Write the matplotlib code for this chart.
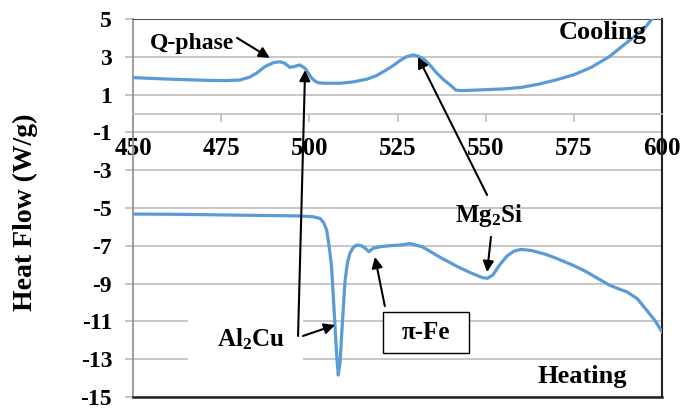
"""DSC heat flow curves (cooling / heating) with phase annotations."""

import matplotlib
matplotlib.use('Agg')
import matplotlib.pyplot as plt
from matplotlib.patches import Rectangle

plt.rcParams['font.family'] = ['Liberation Serif', 'DejaVu Serif']
plt.rcParams['font.weight'] = 'bold'
plt.rcParams['axes.unicode_minus'] = False
plt.rcParams['mathtext.fontset'] = 'custom'
plt.rcParams['mathtext.rm'] = 'Liberation Serif:bold'
plt.rcParams['mathtext.it'] = 'Liberation Serif:bold'
plt.rcParams['mathtext.bf'] = 'Liberation Serif:bold'

# cooling curve (upper)
cool_T = [450, 460, 470, 476, 480.3, 483, 485, 487.4, 489.8, 491.7, 493,
          494.5, 496, 497.3, 498.8, 499.8, 500.7, 501.6, 502.5, 504, 506,
          508.7, 512, 516.2, 519, 521, 523.5, 525.7, 527.5, 529.5, 531,
          532.8, 534.5, 536.1, 538, 540, 541.5, 543, 546, 550, 555, 560, 565,
          570, 575, 580, 585, 590, 595, 598]
cool_HF = [1.9, 1.82, 1.76, 1.74, 1.77, 1.92, 2.13, 2.48, 2.69, 2.74, 2.66,
           2.44, 2.5, 2.57, 2.39, 2.12, 1.86, 1.72, 1.63, 1.6, 1.6, 1.6, 1.66,
           1.81, 2.0, 2.21, 2.5, 2.8, 3.0, 3.1, 3.02, 2.83, 2.5, 2.14, 1.8,
           1.5, 1.24, 1.21, 1.23, 1.26, 1.3, 1.38, 1.55, 1.78, 2.05, 2.45,
           3.0, 3.75, 4.5, 5.2]

# heating curve (lower)
heat_T = [450, 460, 470, 480, 490, 497, 501, 503, 504, 504.9, 505.6, 506.3,
          506.8, 507.3, 507.8, 508.2, 508.7, 509.2, 510.1, 510.8, 511.5,
          512.4, 513.4, 514.8, 516, 516.9, 518.1, 520, 522.5, 525.7, 528.5,
          532, 537, 542, 546, 549, 550.5, 552, 554, 556, 558, 560, 563, 567,
          570, 575, 578.5, 582, 585, 588, 590, 593, 595.6, 598, 600]
heat_HF = [-5.32, -5.33, -5.35, -5.38, -5.4, -5.42, -5.46, -5.55, -5.75,
           -6.16, -7.0, -8.1, -9.7, -11.3, -12.9, -13.84, -13.2, -11.6, -8.9,
           -7.9, -7.4, -7.1, -6.96, -7.0, -7.15, -7.31, -7.13, -7.05, -7.0,
           -6.96, -6.88, -7.05, -7.6, -8.1, -8.45, -8.68, -8.72, -8.55, -8.0,
           -7.55, -7.28, -7.19, -7.25, -7.45, -7.66, -8.05, -8.37, -8.75,
           -9.07, -9.3, -9.43, -9.8, -10.4, -10.95, -11.55]

x_ticks = [450, 475, 500, 525, 550, 575, 600]
y_ticks = [5, 3, 1, -1, -3, -5, -7, -9, -11, -13, -15]

fig = plt.figure(figsize=(6.83, 4.13), dpi=100)
ax = fig.add_axes([0.1947, 0.0387, 0.7746, 0.9153])

ax.set_xlim(450, 600)
ax.set_ylim(-15, 5)
ax.set_yticks(y_ticks)
ax.set_xticks(x_ticks)
ax.grid(True, axis='y', color='#BEBEBE', linewidth=1.2, zorder=0)
ax.set_axisbelow(True)

line_color = '#5B9BD5'
ax.plot(cool_T, cool_HF, color=line_color, linewidth=2.3, zorder=3,
        solid_joinstyle='round')
ax.plot(heat_T, heat_HF, color=line_color, linewidth=2.3, zorder=3,
        solid_joinstyle='round')

# axes styling: x axis crosses at y=0, frame closed at bottom/right
ax.spines['bottom'].set_position(('data', 0))
ax.spines['bottom'].set_color('#BEBEBE')
ax.spines['bottom'].set_linewidth(1.2)
ax.spines['left'].set_color('#8C8C8C')
ax.spines['left'].set_linewidth(1.2)
ax.spines['top'].set_color('#555555')
ax.spines['right'].set_color('#222222')
ax.spines['right'].set_linewidth(1.5)
ax.axhline(-15, color='#222222', linewidth=1.8, clip_on=False, zorder=5)

ax.tick_params(axis='x', direction='out', length=6, width=1.2,
               color='#BEBEBE', labelsize=18, pad=11)
ax.tick_params(axis='y', direction='out', length=6, width=1.2,
               color='#BEBEBE', labelsize=17, pad=9)
for lab in ax.get_xticklabels() + ax.get_yticklabels():
    lab.set_fontweight('bold')

ax.set_ylabel('Heat Flow (W/g)', fontsize=20, fontweight='bold')
ax.yaxis.set_label_coords(-0.18, 0.49)

arrow = dict(arrowstyle='-|>', color='black', lw=1.5, mutation_scale=16,
             shrinkA=0, shrinkB=0)

# Q-phase
ax.text(466.6, 3.7, 'Q-phase', fontsize=17, ha='center', va='center',
        zorder=6)
ax.annotate('', xy=(488.8, 2.94), xytext=(479.5, 4.0), arrowprops=arrow,
            zorder=6)

# Al2Cu label with white backing
ax.add_patch(Rectangle((465.6, -13.4), 32.6, 2.6, facecolor='white',
                       edgecolor='none', zorder=2))
ax.text(483.5, -11.95, r'Al$_2$Cu', fontsize=18, ha='center', va='center',
        zorder=6)
ax.annotate('', xy=(498.8, 2.3), xytext=(496.8, -11.77), arrowprops=arrow,
            zorder=6)
ax.annotate('', xy=(507.3, -11.19), xytext=(498.2, -11.77), arrowprops=arrow,
            zorder=6)

# Mg2Si
ax.text(550.9, -5.42, r'Mg$_2$Si', fontsize=18, ha='center', va='center',
        zorder=6)
ax.annotate('', xy=(530.8, 2.99), xytext=(550.4, -4.31), arrowprops=arrow,
            zorder=6)
ax.annotate('', xy=(550.4, -8.39), xytext=(551.5, -6.53), arrowprops=arrow,
            zorder=6)

# pi-Fe boxed label
ax.add_patch(Rectangle((520.9, -12.67), 24.4, 2.17, facecolor='white',
                       edgecolor='black', linewidth=1.0, zorder=4))
ax.text(533.1, -11.6, 'π-Fe', fontsize=18, ha='center', va='center',
        zorder=6)
ax.annotate('', xy=(518.6, -7.59), xytext=(521.4, -10.19), arrowprops=arrow,
            zorder=6)

ax.text(595.7, 4.26, 'Cooling', fontsize=19, ha='right', va='center',
        zorder=6)
ax.text(577.3, -13.94, 'Heating', fontsize=19, ha='center', va='center',
        zorder=6)

fig.savefig('out.png', dpi=100)
plt.close(fig)
